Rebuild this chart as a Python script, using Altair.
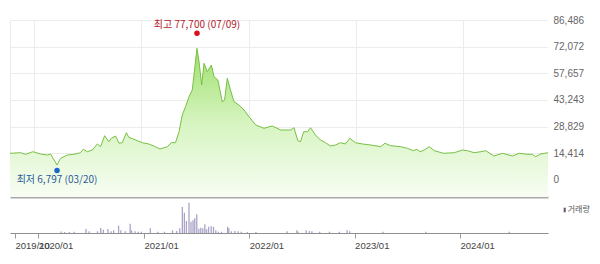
import altair as alt
import pandas as pd

# ---------------- data ----------------
price_dates = [
    "2019-10-12", "2019-11-17", "2019-12-04", "2019-12-29", "2020-01-24", "2020-02-16",
    "2020-02-27", "2020-03-20", "2020-04-01", "2020-04-24", "2020-05-16", "2020-06-08",
    "2020-06-17", "2020-07-01", "2020-07-18", "2020-08-04", "2020-08-15", "2020-08-29",
    "2020-09-12", "2020-09-21", "2020-10-05", "2020-10-17", "2020-10-28", "2020-11-11",
    "2020-11-19", "2020-12-07", "2021-01-04", "2021-01-26", "2021-02-12", "2021-03-05",
    "2021-03-30", "2021-04-13", "2021-04-27", "2021-05-09", "2021-05-20", "2021-05-31",
    "2021-06-12", "2021-06-23", "2021-07-09", "2021-07-16", "2021-07-25", "2021-08-02",
    "2021-08-13", "2021-08-27", "2021-09-05", "2021-09-18", "2021-10-03", "2021-10-11",
    "2021-10-20", "2021-10-31", "2021-11-12", "2021-11-29", "2021-12-16", "2022-01-02",
    "2022-01-25", "2022-02-22", "2022-03-22", "2022-04-20", "2022-05-24", "2022-06-04",
    "2022-06-17", "2022-06-26", "2022-07-07", "2022-07-21", "2022-07-30", "2022-08-16",
    "2022-09-02", "2022-09-19", "2022-10-06", "2022-10-23", "2022-11-09", "2022-11-26",
    "2022-12-11", "2022-12-30", "2023-01-23", "2023-02-20", "2023-03-26", "2023-04-09",
    "2023-04-29", "2023-06-02", "2023-06-25", "2023-07-15", "2023-07-27", "2023-08-07",
    "2023-08-21", "2023-09-07", "2023-09-24", "2023-10-26", "2023-12-01", "2023-12-29",
    "2024-01-15", "2024-02-07", "2024-02-29", "2024-03-17", "2024-04-14", "2024-05-13",
    "2024-06-16", "2024-07-09", "2024-08-06", "2024-08-23", "2024-09-03", "2024-09-20",
    "2024-10-15",
]
price_values = [
    14430, 14760, 13890, 15300, 14050, 13510,
    14050, 8100, 11700, 13510, 13890, 14760,
    16590, 15300, 16200, 19460, 18000, 23940,
    20700, 22540, 23780, 19840, 20160, 25570,
    23080, 22000, 20160, 19460, 18380, 16760,
    18000, 20160, 20160, 26110, 35130, 39620,
    45020, 48650, 71180, 63940, 51350, 63070,
    58540, 62160, 55830, 54050, 42320, 43240,
    54970, 48650, 42320, 40540, 37840, 34210,
    29730, 27940, 29190, 27030, 27030, 28270,
    21240, 20700, 26110, 26110, 28270, 24320,
    21620, 20160, 18380, 18920, 20160, 19460,
    22540, 20160, 19460, 18920, 18000, 19840,
    18540, 18000, 17130, 15840, 16590, 15300,
    16200, 18000, 15840, 14430, 14760, 16200,
    15840, 14760, 15300, 15840, 12970, 14430,
    12970, 14430, 13890, 13890, 12590, 14050,
    14760,
]

volume_dates = [
    "2020-03-20", "2020-04-01", "2020-04-17", "2020-05-04", "2020-06-14", "2020-06-25",
    "2020-07-24", "2020-08-04", "2020-08-13", "2020-08-29", "2020-09-09", "2020-09-18",
    "2020-10-05", "2020-10-13", "2020-10-28", "2020-11-14", "2020-11-19", "2020-12-01",
    "2020-12-12", "2020-12-23", "2021-01-23", "2021-02-18", "2021-03-13", "2021-04-10",
    "2021-04-24", "2021-05-05", "2021-05-14", "2021-05-21", "2021-05-28", "2021-06-06",
    "2021-06-13", "2021-06-20", "2021-06-26", "2021-07-03", "2021-07-10", "2021-07-17",
    "2021-07-24", "2021-07-31", "2021-08-06", "2021-08-13", "2021-08-22", "2021-08-30",
    "2021-09-07", "2021-09-16", "2021-09-27", "2021-10-18", "2021-10-22", "2021-10-31",
    "2021-11-12", "2021-11-23", "2021-12-04", "2021-12-25", "2022-01-24", "2022-05-12",
    "2022-06-15", "2022-06-19", "2022-07-17", "2022-07-28", "2022-08-06", "2022-09-02",
    "2022-10-06", "2022-11-09", "2022-12-06", "2022-12-15", "2023-04-09", "2023-09-05",
    "2024-06-20",
]
volume_values = [
    150, 100, 100, 130, 400, 170,
    170, 500, 330, 400, 170, 270,
    730, 270, 170, 930, 270, 170,
    130, 130, 470, 130, 130, 270,
    200, 470, 2600, 2030, 1200, 3030,
    1130, 1270, 1470, 1870, 430, 530,
    470, 870, 370, 630, 670, 630,
    270, 130, 130, 630, 470, 170,
    200, 170, 130, 100, 100, 170,
    270, 130, 270, 200, 170, 130,
    130, 130, 270, 170, 130, 130,
    130,
]

y_ticks = [0, 14414, 28829, 43243, 57657, 72072, 86486]
y_floor = -9190
volume_max = 3400

high_date = ["2021-07-09"]
high_value = [77700]
high_label = ["최고 77,700 (07/09)"]
low_date = ["2020-03-20"]
low_value = [6797]
low_label = ["최저 6,797 (03/20)"]
legend_label = ["거래량"]

# ---------------- build ----------------
price_df = pd.DataFrame({"date": price_dates, "price": price_values})
vol_df = pd.DataFrame({"date": volume_dates, "volume": volume_values})
hi_df = pd.DataFrame({"date": high_date, "price": high_value, "label": high_label})
lo_df = pd.DataFrame({"date": low_date, "price": low_value, "label": low_label})
leg_df = pd.DataFrame({"label": legend_label})

def dt(y, m, d):
    return alt.DateTime(year=y, month=m, date=d, utc=True)

tick_vals = [dt(2019, 10, 12), dt(2020, 1, 1), dt(2021, 1, 1), dt(2022, 1, 1),
             dt(2023, 1, 1), dt(2024, 1, 1)]
xscale = alt.Scale(type="utc", domain=[dt(2019, 10, 12), dt(2024, 10, 15)])
yscale = alt.Scale(domain=[y_floor, y_ticks[-1]], nice=False, zero=False)

x_price = alt.X("date:T", scale=xscale,
                axis=alt.Axis(values=tick_vals, grid=True, gridColor="#ececec",
                              labels=False, ticks=False, domainColor="#a9a9a9",
                              domainWidth=2, title=None))
y_price = alt.Y("price:Q", scale=yscale,
                axis=alt.Axis(orient="right", values=y_ticks, format=",d", grid=True,
                              gridColor="#ececec", ticks=False, domain=False,
                              labelOverlap=False, labelPadding=5, labelColor="#666666",
                              labelFontSize=10, labelFont="Liberation Sans", title=None))

gradient = alt.Gradient(
    gradient="linear",
    stops=[alt.GradientStop(color="#9fe06c", offset=0),
           alt.GradientStop(color="#d6f4c0", offset=0.5),
           alt.GradientStop(color="#f8fdf4", offset=1)],
    x1=1, x2=1, y1=0, y2=1,
)

area = alt.Chart(price_df).mark_area(color=gradient).encode(
    x=x_price, y=y_price, y2=alt.datum(y_floor))
line = alt.Chart(price_df).mark_line(color="#78c043", strokeWidth=1).encode(
    x=x_price, y=y_price)

hi_dot = alt.Chart(hi_df).mark_circle(color="#d9121b", size=30, opacity=1).encode(
    x=x_price, y=y_price, yOffset=alt.value(-3))
lo_dot = alt.Chart(lo_df).mark_circle(color="#1a66c8", size=30, opacity=1).encode(
    x=x_price, y=y_price, yOffset=alt.value(3))
hi_text = alt.Chart(hi_df).mark_text(color="#b3222a", fontSize=10, dy=-11.5,
                                     font="Noto Sans CJK KR", align="center",
                                     baseline="middle").encode(
    x=x_price, y=y_price, text="label:N")
lo_text = alt.Chart(lo_df).mark_text(color="#2c5c9c", fontSize=10, dy=12.6,
                                     font="Noto Sans CJK KR", align="center",
                                     baseline="middle").encode(
    x=x_price, y=y_price, text="label:N")

price_chart = alt.layer(area, line, hi_dot, lo_dot, hi_text, lo_text).properties(
    width=538, height=177)

bars = alt.Chart(vol_df).mark_bar(color="#aaa2c8", size=1.3).encode(
    x=alt.X("date:T", scale=xscale,
            axis=alt.Axis(values=tick_vals, format="%Y/%m", labelAlign="left",
                          labelOverlap=False, tickSize=5, tickColor="#999999",
                          domainColor="#8f8f8f", labelColor="#444444",
                          labelFontSize=9.5, labelFont="Liberation Sans",
                          labelPadding=2, grid=False, title=None)),
    y=alt.Y("volume:Q", scale=alt.Scale(domain=[0, volume_max]), axis=None),
)
leg_icon = alt.Chart(leg_df).mark_rule(color="#5a566a", strokeWidth=2).encode(
    x=alt.value(554.7), y=alt.value(8.7), y2=alt.value(13.3))
leg_text = alt.Chart(leg_df).mark_text(color="#555555", fontSize=8, align="left",
                                       baseline="middle", font="Noto Sans CJK KR").encode(
    x=alt.value(557.7), y=alt.value(11), text="label:N")

volume_chart = alt.layer(bars, leg_icon, leg_text).properties(width=538, height=34)

chart = alt.vconcat(price_chart, volume_chart, spacing=2).resolve_scale(
    y="independent").properties(
    padding={"left": 8, "top": 15, "right": 0, "bottom": 0},
    background="white",
).configure_view(stroke=None).configure_axis(labelOverlap=False)

chart.save("out.html", embed_options={"renderer": "svg", "actions": False})
